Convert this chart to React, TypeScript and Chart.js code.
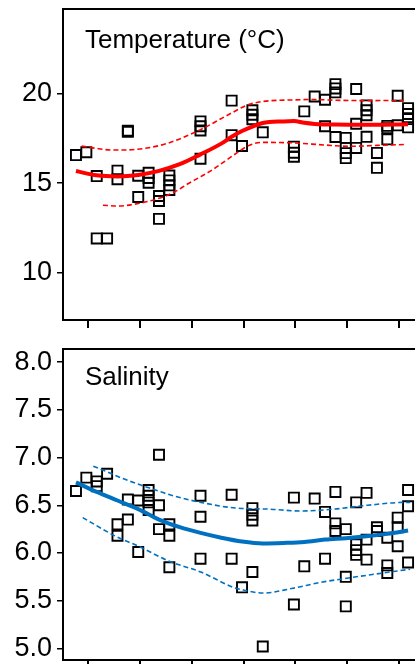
import React, { useEffect, useRef } from 'react';
import { Chart, registerables } from 'chart.js';

Chart.register(...registerables);

const FONT = '"Liberation Sans", Arial, Helvetica, sans-serif';

// x axis: sampling index (weekly columns); tick marks every 5 columns
const xTicks = [1.15, 6.15, 11.15, 16.15, 21.15, 26.15, 31.15];
const xMin = -1.25;
const xMax = 33.15;

// ---------- Temperature panel ----------
const tempTitle = 'Temperature (°C)';
const tempTicks = [10, 15, 20];
const tempMin = 7.36;
const tempMax = 24.71;

const tempPtX = [0, 1, 2, 2, 3, 4, 4, 5, 5, 6, 6, 7, 7, 7, 8, 8, 8, 9, 9, 9, 9, 12, 12, 12, 12, 15, 15, 16, 17, 17, 17, 18, 21, 21, 21, 22, 23, 24, 24, 25, 25, 25, 25, 26, 26, 26, 26, 27, 27, 27, 28, 28, 28, 28, 29, 29, 30, 30, 30, 31, 31, 32, 32, 32, 32];
const tempPtY = [16.56, 16.72, 15.39, 11.91, 11.91, 15.69, 15.21, 17.92, 17.86, 15.41, 14.22, 15.57, 15.28, 15.02, 14.28, 14.0, 13.0, 15.42, 15.15, 14.87, 14.61, 18.44, 18.17, 17.93, 16.36, 19.6, 17.67, 17.07, 19.06, 18.81, 18.56, 17.83, 17.03, 16.69, 16.47, 19.0, 19.83, 19.65, 18.17, 20.52, 20.28, 20.06, 17.57, 17.52, 16.96, 16.67, 16.39, 20.25, 18.31, 16.96, 19.33, 19.06, 18.78, 17.58, 16.68, 15.85, 18.19, 18.06, 17.44, 19.87, 18.22, 19.18, 18.85, 18.57, 18.11];

const tempFitX = [0, 2, 4, 6, 8, 10, 12, 14, 15, 16, 17, 18, 20, 21, 22, 23, 25, 28, 32];
const tempFitY = [15.67, 15.43, 15.37, 15.45, 15.68, 16.05, 16.6, 17.2, 17.58, 17.9, 18.15, 18.35, 18.44, 18.46, 18.36, 18.3, 18.26, 18.25, 18.28];

const tempUpX = [0.55, 2, 3.5, 5, 7, 9, 12, 15, 16.5, 18, 21, 23, 25, 28, 31.6];
const tempUpY = [17.06, 16.93, 16.84, 16.85, 16.97, 17.25, 17.98, 18.91, 19.35, 19.55, 19.64, 19.66, 19.62, 19.6, 19.61];

const tempLoX = [2.6, 4, 6, 8, 9.5, 10.7, 12, 13.2, 14.3, 15.5, 16.5, 17.9, 21, 24, 26.5, 29, 31.6];
const tempLoY = [13.76, 13.72, 13.86, 14.15, 14.5, 14.93, 15.35, 15.76, 16.2, 16.68, 17.05, 17.27, 17.24, 17.12, 17.05, 17.1, 17.15];

// ---------- Salinity panel ----------
const salTitle = 'Salinity';
const salTicks = [5.0, 5.5, 6.0, 6.5, 7.0, 7.5, 8.0];
const salMin = 4.878;
const salMax = 8.138;

const salPtX = [0, 1, 2, 2, 3, 4, 4, 5, 5, 6, 6, 7, 7, 7, 7, 8, 8, 8, 9, 9, 9, 12, 12, 12, 15, 15, 16, 17, 17, 17, 17, 18, 21, 21, 22, 23, 24, 24, 25, 25, 25, 26, 26, 26, 27, 27, 27, 27, 28, 28, 28, 29, 29, 30, 30, 30, 31, 31, 31, 32, 32, 32];
const salPtY = [6.65, 6.79, 6.75, 6.70, 6.83, 6.30, 6.18, 6.56, 6.35, 6.55, 6.01, 6.66, 6.60, 6.53, 6.45, 7.03, 6.50, 6.25, 6.30, 6.18, 5.85, 6.60, 6.38, 5.94, 6.61, 5.94, 5.64, 6.47, 6.40, 6.34, 5.80, 5.02, 6.58, 5.46, 5.86, 6.57, 6.43, 5.94, 6.64, 6.31, 6.23, 6.25, 5.75, 5.44, 6.53, 6.09, 6.03, 5.98, 6.63, 6.14, 5.93, 6.27, 6.23, 6.16, 5.87, 5.79, 6.37, 6.27, 6.07, 6.66, 6.49, 5.90];

const salFitX = [0, 2, 4, 6, 8, 10, 12, 14, 16, 18, 20, 22, 24, 26, 28, 30, 32];
const salFitY = [6.74, 6.64, 6.55, 6.46, 6.35, 6.27, 6.21, 6.16, 6.12, 6.10, 6.105, 6.115, 6.14, 6.155, 6.175, 6.2, 6.235];

const salUpX = [1.67, 3, 4.5, 6.04, 7.1, 9.05, 12.04, 15.5, 18.5, 21.7, 24.9, 28.1, 31.7, 32.2];
const salUpY = [6.91, 6.85, 6.78, 6.72, 6.68, 6.61, 6.53, 6.47, 6.46, 6.44, 6.46, 6.5, 6.53, 6.53];

const salLoX = [0.65, 3.92, 6.04, 9.05, 12.04, 15.15, 15.8, 18.04, 20.9, 23.5, 26.4, 32.2];
const salLoY = [6.37, 6.17, 6.07, 5.91, 5.8, 5.64, 5.62, 5.58, 5.63, 5.69, 5.74, 5.83];

const RED = '#ff0000';
const BLUE = '#0070c0';

type PanelCfg = {
  title: string;
  titleOffset: number;
  ticks: number[];
  min: number;
  max: number;
  decimals: number;
  ptX: number[];
  ptY: number[];
  fitX: number[];
  fitY: number[];
  upX: number[];
  upY: number[];
  loX: number[];
  loY: number[];
  color: string;
};

const toXY = (xs: number[], ys: number[]) => xs.map((x, i) => ({ x, y: ys[i] }));

function Panel({ cfg, top }: { cfg: PanelCfg; top: number }) {
  const ref = useRef<HTMLCanvasElement | null>(null);
  useEffect(() => {
    if (!ref.current) return;
    const panelPlugin = {
      id: 'panelBox',
      afterDraw(chart: any) {
        const { ctx, chartArea: a } = chart;
        ctx.save();
        ctx.strokeStyle = '#000';
        ctx.lineWidth = 2;
        ctx.strokeRect(a.left, a.top, a.right - a.left, a.bottom - a.top);
        ctx.fillStyle = '#000';
        ctx.font = `26px ${FONT}`;
        ctx.textBaseline = 'alphabetic';
        ctx.textAlign = 'left';
        ctx.fillText(cfg.title, a.left + 22, a.top + cfg.titleOffset);
        ctx.restore();
      },
    };
    const lineDs = (xs: number[], ys: number[], width: number, dash: number[]) => ({
      type: 'line' as const,
      data: toXY(xs, ys),
      borderColor: cfg.color,
      borderWidth: width,
      borderDash: dash,
      pointRadius: 0,
      fill: false,
      showLine: true,
      cubicInterpolationMode: 'monotone' as const,
      order: 0,
    });
    const chart = new Chart(ref.current, {
      type: 'scatter',
      data: {
        datasets: [
          {
            type: 'scatter',
            data: toXY(cfg.ptX, cfg.ptY),
            pointStyle: 'rect',
            pointRadius: 7.1,
            pointBorderWidth: 1.9,
            pointBorderColor: '#000',
            pointBackgroundColor: 'rgba(0,0,0,0)',
            borderColor: '#000',
            backgroundColor: 'rgba(0,0,0,0)',
            order: 2,
          } as any,
          lineDs(cfg.upX, cfg.upY, 1.6, [5, 3]),
          lineDs(cfg.loX, cfg.loY, 1.6, [5, 3]),
          lineDs(cfg.fitX, cfg.fitY, 4, []),
        ],
      },
      options: {
        responsive: false,
        animation: false,
        devicePixelRatio: 1,
        layout: { padding: { top: 7, right: 20, bottom: 0, left: 0 } },
        plugins: { legend: { display: false }, tooltip: { enabled: false } },
        scales: {
          x: {
            type: 'linear',
            min: xMin,
            max: xMax,
            afterBuildTicks: (s: any) => {
              s.ticks = xTicks.map((v) => ({ value: v }));
            },
            afterFit: (s: any) => {
              s.height = 20;
              s.paddingLeft = 0;
              s.paddingRight = 0;
            },
            ticks: { display: false },
            grid: { drawOnChartArea: false, drawTicks: true, tickLength: 8, color: '#000', lineWidth: 2 },
            border: { display: true, color: '#000', width: 2 },
          },
          y: {
            type: 'linear',
            position: 'left',
            min: cfg.min,
            max: cfg.max,
            afterBuildTicks: (s: any) => {
              s.ticks = cfg.ticks.map((v) => ({ value: v }));
            },
            afterFit: (s: any) => {
              s.width = 63;
              s.paddingTop = 0;
              s.paddingBottom = 0;
            },
            ticks: {
              color: '#000',
              padding: 5,
              font: { size: 27, family: FONT },
              callback: (v: any) => Number(v).toFixed(cfg.decimals),
            },
            grid: { drawOnChartArea: false, drawTicks: true, tickLength: 6, color: '#000', lineWidth: 1.5 },
            border: { display: true, color: '#000', width: 2 },
          },
        },
      } as any,
      plugins: [panelPlugin],
    });
    return () => chart.destroy();
  }, [cfg]);
  return (
    <canvas
      ref={ref}
      width={440}
      height={340}
      style={{ position: 'absolute', left: 0, top, display: 'block' }}
    />
  );
}

const tempCfg: PanelCfg = {
  title: tempTitle,
  titleOffset: 38.8,
  ticks: tempTicks,
  min: tempMin,
  max: tempMax,
  decimals: 0,
  ptX: tempPtX,
  ptY: tempPtY,
  fitX: tempFitX,
  fitY: tempFitY,
  upX: tempUpX,
  upY: tempUpY,
  loX: tempLoX,
  loY: tempLoY,
  color: RED,
};

const salCfg: PanelCfg = {
  title: salTitle,
  titleOffset: 36,
  ticks: salTicks,
  min: salMin,
  max: salMax,
  decimals: 1,
  ptX: salPtX,
  ptY: salPtY,
  fitX: salFitX,
  fitY: salFitY,
  upX: salUpX,
  upY: salUpY,
  loX: salLoX,
  loY: salLoY,
  color: BLUE,
};

export default function App() {
  return (
    <div
      style={{
        position: 'fixed',
        left: 0,
        top: 0,
        width: 415,
        height: 664,
        overflow: 'hidden',
        background: '#fff',
      }}
    >
      <Panel cfg={tempCfg} top={0} />
      <Panel cfg={salCfg} top={340} />
    </div>
  );
}
